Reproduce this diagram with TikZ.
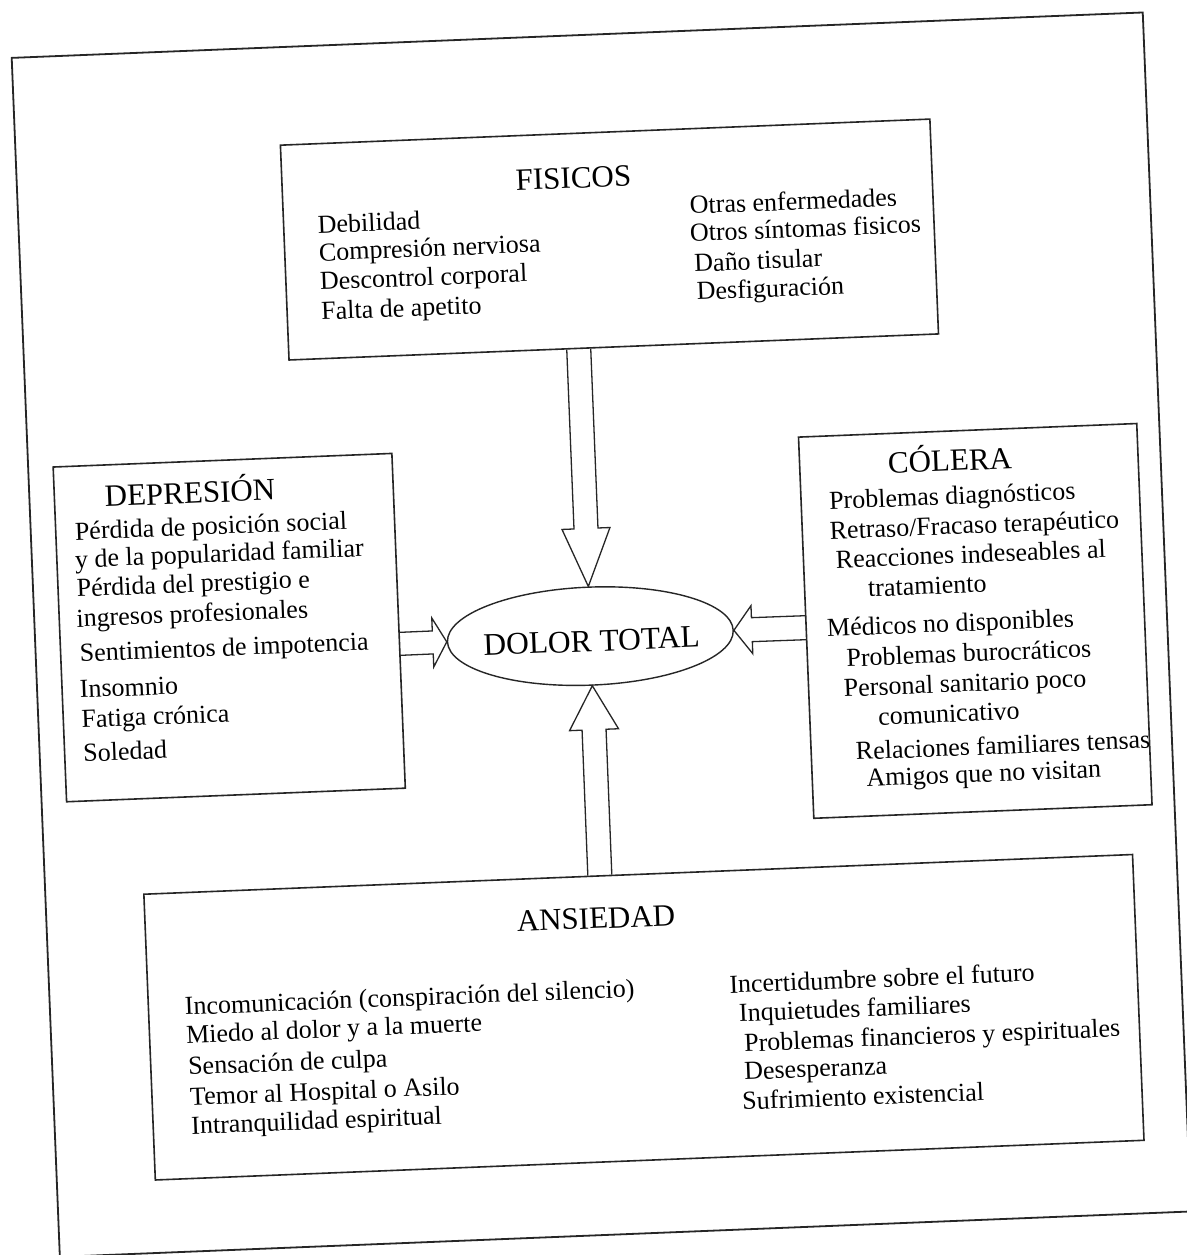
\documentclass[tikz,border=0pt]{standalone}
\usepackage{fontspec}
\setmainfont{Liberation Serif}
\usetikzlibrary{calc,shapes.geometric}
\tikzset{
  frame/.style={draw=black!85, line width=1.8pt, rectangle, inner sep=0pt, transform shape},
  box/.style={draw=black!85, line width=1.6pt, rectangle, inner sep=0pt, transform shape},
  oval/.style={draw=black!85, line width=1.4pt, ellipse, inner sep=0pt, transform shape},
  bigtxt/.style={inner sep=0pt, transform shape, font=\fontsize{31.5}{36}\selectfont},
  ttl/.style={anchor=base west, inner sep=0pt, transform shape, text height=21pt, text depth=1pt, font=\fontsize{31}{36}\selectfont},
  itm/.style={anchor=base west, inner sep=0pt, transform shape, text height=18pt, text depth=4pt, font=\fontsize{26}{30}\selectfont},
  blk/.style={draw=black!85, line width=1.3pt, line join=miter},
}
% #1 prefix, #2 start, #3 tip, #4 half shaft, #5 half head, #6 head length
\newcommand{\blockarrow}[6]{%
  \coordinate (#1h) at ($(#3)!#6!(#2)$);
  \draw[blk] ($(#2)!#4!90:(#3)$) -- ($(#1h)!#4!90:(#3)$) -- ($(#1h)!#5!90:(#3)$)
    -- (#3) -- ($(#1h)!#5!-90:(#3)$) -- ($(#1h)!#4!-90:(#3)$) -- ($(#2)!#4!-90:(#3)$);
}
\begin{document}
\begin{tikzpicture}[x=1pt,y=-1pt]
\useasboundingbox (0,0) rectangle (1186,1255);
\fill[white] (0,0) rectangle (1186,1255);
\begin{scope}[rotate around={2.3:(593,627.5)}]
  % outer frame
  \node[frame, minimum width=1132pt, minimum height=1200pt] (outer) at (601,635) {};
  % boxes
  \node[box, minimum width=650pt, minimum height=215pt] (fis) at (625,240.5) {};
  \node[box, minimum width=339pt, minimum height=335pt] (dep) at (229.5,613) {};
  \node[box, minimum width=338.5pt, minimum height=381.5pt] (col) at (975.25,636.25) {};
  \node[box, minimum width=989.5pt, minimum height=286pt] (ans) at (628.25,1019) {};
  % centre ellipse
  \node[oval, minimum width=286pt, minimum height=98pt] (dol) at (590,636) {};
  \node[bigtxt] (doltxt) at (591,641) {DOLOR TOTAL};

  % FISICOS
  \node[ttl] (ft) at (533.6,187.5) {FISICOS};
  \node[itm] (f1) at (334,222.5) {Debilidad};
  \node[itm] (f2) at (334,250.3) {Compresión nerviosa};
  \node[itm] (f3) at (334,279.3) {Descontrol corporal};
  \node[itm] (f4) at (334,309.3) {Falta de apetito};
  \node[itm] (f5) at (706.5,218.2) {Otras enfermedades};
  \node[itm] (f6) at (705.5,245.9) {Otros síntomas fisicos};
  \node[itm] (f7) at (708.7,276.1) {Daño tisular};
  \node[itm] (f8) at (710,304.4) {Desfiguración};

  % DEPRESION
  \node[ttl] (dt) at (110.2,487.2) {DEPRESIÓN};
  \node[itm] (d1) at (79,519.3) {Pérdida de posición social};
  \node[itm] (d2) at (78,547.3) {y de la popularidad familiar};
  \node[itm] (d3) at (78.5,576.3) {Pérdida del prestigio e};
  \node[itm] (d4) at (77,606.3) {ingresos profesionales};
  \node[itm] (d5) at (79,641.2) {Sentimientos de impotencia};
  \node[itm] (d6) at (77.5,677.2) {Insomnio};
  \node[itm] (d7) at (78,707.2) {Fatiga crónica};
  \node[itm] (d8) at (78.5,741.1) {Soledad};

  % COLERA
  \node[ttl] (ct) at (894.2,485.3) {CÓLERA};
  \node[itm] (c1) at (833.9,518.9) {Problemas diagnósticos};
  \node[itm] (c2) at (833.3,548.9) {Retraso/Fracaso terapéutico};
  \node[itm] (c3) at (838.2,578.1) {Reacciones indeseables al};
  \node[itm] (c4) at (869.3,607.8) {tratamiento};
  \node[itm] (c5) at (826.7,646.1) {Médicos no disponibles};
  \node[itm] (c6) at (844.9,676.8) {Problemas burocráticos};
  \node[itm] (c7) at (841,706.7) {Personal sanitario poco};
  \node[itm] (c8) at (874.2,736.4) {comunicativo};
  \node[itm] (c9) at (850.5,770.4) {Relaciones familiares tensas};
  \node[itm] (c10) at (860.1,797.5) {Amigos que no visitan};

  % ANSIEDAD
  \node[ttl] (at) at (504.9,928.4) {ANSIEDAD};
  \node[itm] (a1) at (169.8,998.3) {Incomunicación (conspiración del silencio)};
  \node[itm] (a2) at (170,1026.6) {Miedo al dolor y a la muerte};
  \node[itm] (a3) at (170.7,1058.4) {Sensación de culpa};
  \node[itm] (a4) at (171.4,1089) {Temor al Hospital o Asilo};
  \node[itm] (a5) at (171.5,1117.8) {Intranquilidad espiritual};
  \node[itm] (a6) at (714.8,998.5) {Incertidumbre sobre el futuro};
  \node[itm] (a7) at (723.3,1027.3) {Inquietudes familiares};
  \node[itm] (a8) at (727.3,1057.4) {Problemas financieros y espirituales};
  \node[itm] (a9) at (726.1,1085.7) {Desesperanza};
  \node[itm] (a10) at (723,1115.6) {Sufrimiento existencial};

  % block arrows
  \coordinate (pd) at ($(fis.south west)!0.4462!(fis.south east)$);
  \coordinate (pu) at ($(ans.north west)!0.4613!(ans.north east)$);
  \coordinate (pl) at ($(dep.north east)!0.5687!(dep.south east)$);
  \coordinate (pr) at (col.west);
  \blockarrow{ad}{pd}{dol.north}{12pt}{24pt}{58pt}
  \blockarrow{au}{pu}{dol.south}{12pt}{24.5pt}{44pt}
  \blockarrow{al}{pl}{dol.west}{11.5pt}{24.5pt}{14pt}
  \blockarrow{ar}{pr}{dol.east}{12pt}{24pt}{18pt}
\end{scope}
\end{tikzpicture}
\end{document}
